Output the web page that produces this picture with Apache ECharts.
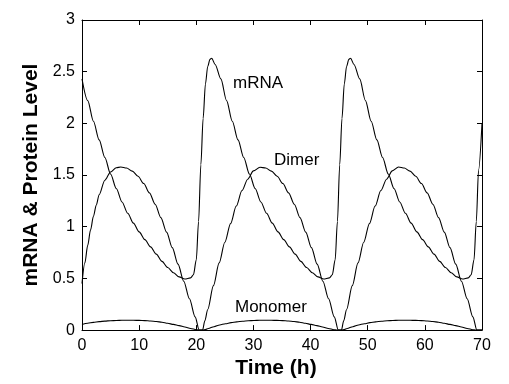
<!DOCTYPE html>
<html>
<head>
<meta charset="utf-8">
<script src="https://cdn.jsdelivr.net/npm/echarts@6/dist/echarts.min.js"></script>
<style>
  html, body { margin: 0; padding: 0; background: #fff; }
  #chart { width: 509px; height: 384px; }
</style>
</head>
<body>
<div id="chart"></div>
<script>
// time (h) and level values
var mrnaT = [0,1,2,3,4,5,6,7,8,9,10,11,12,13,14,15,16,17,18,19,
  19.5,20,20.4,20.8,21.2,21.6,22,22.4,22.7,
  23.3,24.3,25.3,26.3,27.3,28.3,29.3,30.3,31.3,32.3,33.3,34.3,35.3,36.3,37.3,38.3,39.3,40.3,41.3,42.3,
  43.3,43.8,44.3,44.7,45.1,45.5,45.9,46.3,46.7,47.0,
  47.6,48.6,49.6,50.6,51.6,52.6,53.6,54.6,55.6,56.6,57.6,58.6,59.6,60.6,61.6,62.6,63.6,64.6,65.6,66.6,
  67.6,68.1,68.6,69.0,69.4,70];
var mrnaV = [2.43,2.22,2.02,1.84,1.67,1.51,1.37,1.24,1.13,1.035,0.95,0.875,0.805,0.735,0.665,0.605,0.555,0.515,0.495,0.505,
  0.535,0.68,1.05,1.60,2.05,2.38,2.55,2.62,2.63,
  2.57,2.43,2.22,2.02,1.84,1.67,1.51,1.37,1.24,1.13,1.035,0.95,0.875,0.805,0.735,0.665,0.605,0.555,0.515,0.495,
  0.505,0.535,0.68,1.05,1.60,2.05,2.38,2.55,2.62,2.63,
  2.57,2.43,2.22,2.02,1.84,1.67,1.51,1.37,1.24,1.13,1.035,0.95,0.875,0.805,0.735,0.665,0.605,0.555,0.515,0.495,
  0.505,0.535,0.68,1.05,1.55,2.00];

var dimerT = [0,0.5,1,1.5,2,2.5,3,4,5,6,6.8,
  7.8,8.8,9.8,10.8,11.8,12.8,13.8,14.8,15.8,16.8,17.8,18.8,19.8,20.5,
  21.1,21.5,22,23,24,25,26,27,28,29,30,31.15,
  32.15,33.15,34.15,35.15,36.15,37.15,38.15,39.15,40.15,41.15,42.15,43.15,44.15,44.85,
  45.4,45.8,46.3,47.3,48.3,49.3,50.3,51.3,52.3,53.3,54.3,55.4,
  56.4,57.4,58.4,59.4,60.4,61.4,62.4,63.4,64.4,65.4,66.4,67.4,68.4,69.1,70];
var dimerV = [0.45,0.65,0.82,0.97,1.10,1.21,1.31,1.45,1.53,1.57,1.578,
  1.568,1.538,1.488,1.418,1.328,1.218,1.088,0.948,0.798,0.638,0.473,0.303,0.128,0.0,
  0.0,0.09,0.20,0.43,0.65,0.85,1.03,1.20,1.35,1.46,1.54,1.575,
  1.568,1.538,1.488,1.418,1.328,1.218,1.088,0.948,0.798,0.638,0.473,0.303,0.128,0.0,
  0.0,0.09,0.20,0.43,0.65,0.85,1.03,1.20,1.35,1.46,1.54,1.578,
  1.568,1.538,1.488,1.418,1.328,1.218,1.088,0.948,0.798,0.638,0.473,0.303,0.128,0.0,0.0];

var monoT = [0,1,2,3,4,5,6,7,8,9,10,11,12,13,14,15,16,17,18,19,20,20.4,
  21.1,21.6,22.1,23.1,24.1,25.1,26.1,27.1,28.1,29.1,30.1,31.1,32.1,33.1,34.1,35.1,36.1,37.1,38.1,39.1,40.1,41.1,42.1,43.1,44.1,44.6,
  45.4,45.9,46.4,47.4,48.4,49.4,50.4,51.4,52.4,53.4,54.4,55.4,56.4,57.4,58.4,59.4,60.4,61.4,62.4,63.4,64.4,65.4,66.4,67.4,68.4,68.9,70];
var monoV = [0.054,0.066,0.075,0.082,0.087,0.091,0.093,0.095,0.095,0.095,0.094,0.092,0.088,0.083,0.076,0.066,0.055,0.043,0.030,0.016,0.004,0.0,
  0.0,0.006,0.015,0.033,0.050,0.062,0.072,0.080,0.086,0.090,0.093,0.095,0.095,0.095,0.094,0.092,0.088,0.083,0.076,0.066,0.055,0.043,0.030,0.016,0.004,0.0,
  0.0,0.006,0.015,0.033,0.050,0.062,0.072,0.080,0.086,0.090,0.093,0.095,0.095,0.095,0.094,0.092,0.088,0.083,0.076,0.066,0.055,0.043,0.030,0.016,0.004,0.0,0.0];

var xTicks = [0, 70, 10];   // min, max, step
var yTicks = [0, 3, 0.5];

function pairs(t, v) {
  var out = [];
  for (var i = 0; i < t.length; i++) out.push([t[i], v[i]]);
  return out;
}

var font = 'Liberation Sans, Arial, sans-serif';
var black = '#000';

function axisBase(pos, labels) {
  return {
    type: 'value',
    position: pos,
    axisLine: { show: true, onZero: false, lineStyle: { color: black, width: 1 } },
    axisTick: { show: true, inside: true, length: 5, lineStyle: { color: black, width: 1 } },
    axisLabel: { show: labels, color: black, fontSize: 16, fontFamily: font, margin: 7 },
    splitLine: { show: false }
  };
}

var xb = axisBase('bottom', true);
xb.min = xTicks[0]; xb.max = xTicks[1]; xb.interval = xTicks[2];
xb.name = 'Time (h)';
xb.nameLocation = 'middle';
xb.nameGap = 22;
xb.nameTextStyle = { color: black, fontSize: 21, fontWeight: 'bold', fontFamily: font, padding: [0, 12, 0, 0] };
var xt = axisBase('top', false);
xt.min = xTicks[0]; xt.max = xTicks[1]; xt.interval = xTicks[2];

var yl = axisBase('left', true);
yl.min = yTicks[0]; yl.max = yTicks[1]; yl.interval = yTicks[2];
yl.name = 'mRNA & Protein Level';
yl.nameLocation = 'middle';
yl.nameGap = 35;
yl.nameTextStyle = { color: black, fontSize: 21, fontWeight: 'bold', fontFamily: font };
var yr = axisBase('right', false);
yr.min = yTicks[0]; yr.max = yTicks[1]; yr.interval = yTicks[2];

function line(name, data) {
  return {
    name: name,
    type: 'line',
    data: data,
    xAxisIndex: 0,
    yAxisIndex: 0,
    showSymbol: false,
    smooth: 0.3,
    smoothMonotone: 'x',
    lineStyle: { color: black, width: 1.1 },
    itemStyle: { color: black },
    animation: false
  };
}

var chart = echarts.init(document.getElementById('chart'), null, { renderer: 'canvas' });
chart.setOption({
  backgroundColor: '#fff',
  animation: false,
  grid: { left: 82, top: 20, width: 400, height: 315, containLabel: false },
  xAxis: [xb, xt],
  yAxis: [yl, yr],
  series: [
    line('mRNA', pairs(mrnaT, mrnaV)),
    line('Dimer', pairs(dimerT, dimerV)),
    line('Monomer', pairs(monoT, monoV))
  ],
  graphic: [
    { type: 'text', left: 233, top: 75, style: { text: 'mRNA', fill: black, font: '17px ' + font } },
    { type: 'text', left: 274, top: 152, style: { text: 'Dimer', fill: black, font: '17px ' + font } },
    { type: 'text', left: 235, top: 299, style: { text: 'Monomer', fill: black, font: '17px ' + font } }
  ]
});
</script>
</body>
</html>
